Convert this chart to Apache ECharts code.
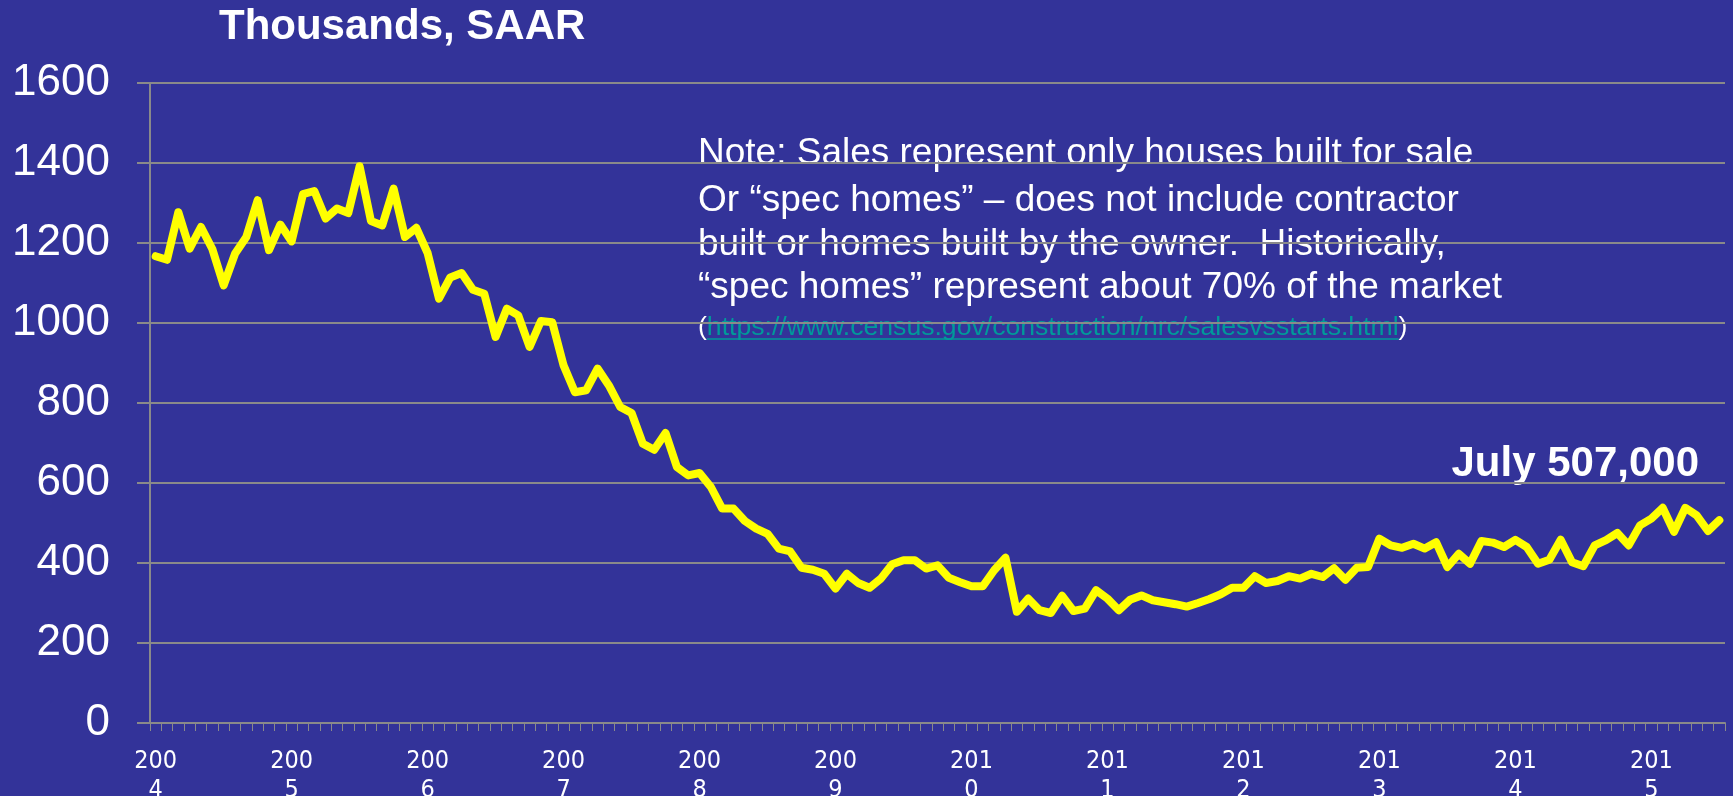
<!DOCTYPE html>
<html>
<head>
<meta charset="utf-8">
<title>New Home Sales</title>
<script src="https://cdn.jsdelivr.net/npm/echarts@6/dist/echarts.min.js"></script>
<style>
  html, body { margin: 0; padding: 0; background: #333399; }
  #chart { width: 1733px; height: 796px; }
</style>
</head>
<body>
<div id="chart"></div>
<script>
// New single-family homes sold, monthly, thousands (SAAR), Jan 2004 - Jul 2015
const years = ['2004', '2005', '2006', '2007', '2008', '2009', '2010', '2011', '2012', '2013', '2014', '2015'];

const sales = [
  1167, 1158, 1277, 1186, 1240, 1185, 1094, 1173, 1215, 1307, 1182, 1246,
  1204, 1322, 1330, 1261, 1286, 1275, 1392, 1255, 1244, 1336, 1215, 1238,
  1175, 1061, 1114, 1125, 1083, 1073, 965, 1036, 1019, 940, 1005, 1002,
  894, 827, 832, 886, 844, 790, 775, 698, 683, 725, 640, 619,
  625, 590, 536, 536, 505, 486, 473, 436, 429, 388, 383, 373,
  336, 373, 350, 338, 361, 397, 407, 407, 386, 394, 363, 352,
  342, 342, 382, 413, 278, 311, 282, 275, 318, 280, 286, 332,
  311, 282, 308, 319, 307, 302, 297, 291, 300, 310, 322, 338,
  338, 367, 350, 355, 367, 361, 373, 365, 387, 358, 388, 390,
  461, 444, 438, 448, 436, 452, 390, 423, 398, 455, 451, 440,
  458, 440, 398, 408, 458, 402, 392, 444, 457, 475, 444, 494,
  511, 538, 478, 538, 519, 480, 507
];

const yTicks = { min: 0, max: 1600, step: 200 };

const titleText = 'Thousands, SAAR';
const noteLines = [
  'Note: Sales represent only houses built for sale',
  'Or \u201Cspec homes\u201D \u2013 does not include contractor',
  'built or homes built by the owner.  Historically,',
  '\u201Cspec homes\u201D represent about 70% of the market'
];
const sourceUrl = 'https://www.census.gov/construction/nrc/salesvsstarts.html';

// one category per month, labelled by year-month
const months = [];
years.forEach(y => {
  for (let m = 1; m <= 12; m++) months.push(y + '-' + String(m).padStart(2, '0'));
});
months.length = sales.length;

const lastValue = sales[sales.length - 1];
const lastLabel = 'July ' + (lastValue * 1000).toLocaleString('en-US');

const FONT = "'Liberation Sans', Arial, sans-serif";
const NARROW = "'Liberation Sans Narrow', 'Arial Narrow', 'DejaVu Sans Condensed', sans-serif";
const GRID_GRAY = '#8a8a8a';

// width of the link text, for its underline
function textWidth(str, size) {
  const ctx = document.createElement('canvas').getContext('2d');
  ctx.font = size + 'px ' + FONT;
  return ctx.measureText(str).width;
}

const noteX = 698;
const noteYs = [154, 201, 245, 288];
const linkY = 328;
const linkSize = 26.6;
const parenW = textWidth('(', linkSize);
const urlW = textWidth(sourceUrl, linkSize);

const graphics = [
  {
    type: 'text', left: 219, top: 6,
    style: { text: titleText, fill: '#fff', font: 'bold 42px ' + FONT }
  },
  ...noteLines.map((t, i) => ({
    type: 'text', x: noteX, y: noteYs[i],
    style: { text: t, fill: '#fff', font: '37px ' + FONT, textVerticalAlign: 'middle' }
  })),
  {
    type: 'text', x: noteX, y: linkY,
    style: { text: '(', fill: '#fff', font: linkSize + 'px ' + FONT, textVerticalAlign: 'middle' }
  },
  {
    type: 'text', x: noteX + parenW, y: linkY,
    style: { text: sourceUrl, fill: '#009a9a', font: linkSize + 'px ' + FONT, textVerticalAlign: 'middle' }
  },
  {
    type: 'line',
    shape: { x1: noteX + parenW, y1: linkY + 11, x2: noteX + parenW + urlW, y2: linkY + 11 },
    style: { stroke: '#009a9a', lineWidth: 1.5 }
  },
  {
    type: 'text', x: noteX + parenW + urlW, y: linkY,
    style: { text: ')', fill: '#fff', font: linkSize + 'px ' + FONT, textVerticalAlign: 'middle' }
  },
  {
    type: 'text', x: 1699, y: 464,
    style: { text: lastLabel, fill: '#fff', font: 'bold 42px ' + FONT, textAlign: 'right', textVerticalAlign: 'middle' }
  }
];

const chart = echarts.init(document.getElementById('chart'), null, { renderer: 'canvas' });
chart.setOption({
  backgroundColor: '#333399',
  animation: false,
  grid: { left: 150, right: 8, top: 83, bottom: 73, containLabel: false, outerBoundsMode: 'none' },
  xAxis: {
    type: 'category',
    data: months,
    boundaryGap: true,
    axisLine: { show: true, lineStyle: { color: GRID_GRAY, width: 2 } },
    axisTick: { show: true, interval: 0, length: 8, lineStyle: { color: GRID_GRAY, width: 1 } },
    axisLabel: {
      interval: (i) => i % 12 === 0,
      formatter: (v) => v.slice(0, 3) + '\n' + v.slice(3, 4),
      color: '#fff',
      fontFamily: NARROW,
      fontSize: 25,
      lineHeight: 29,
      margin: 24
    },
    splitLine: { show: false }
  },
  yAxis: {
    type: 'value',
    min: yTicks.min,
    max: yTicks.max,
    interval: yTicks.step,
    axisLine: { show: true, lineStyle: { color: GRID_GRAY, width: 2 } },
    axisTick: { show: true, length: 13, lineStyle: { color: GRID_GRAY, width: 2 } },
    axisLabel: { color: '#fff', fontFamily: FONT, fontSize: 44, margin: 40, formatter: (v) => String(v) },
    splitLine: { show: true, lineStyle: { color: GRID_GRAY, width: 2 } }
  },
  series: [{
    type: 'line',
    data: sales,
    symbol: 'none',
    lineStyle: { color: '#ffff00', width: 8, cap: 'round', join: 'round' },
    z: 3
  }],
  graphic: graphics
});
</script>
</body>
</html>
